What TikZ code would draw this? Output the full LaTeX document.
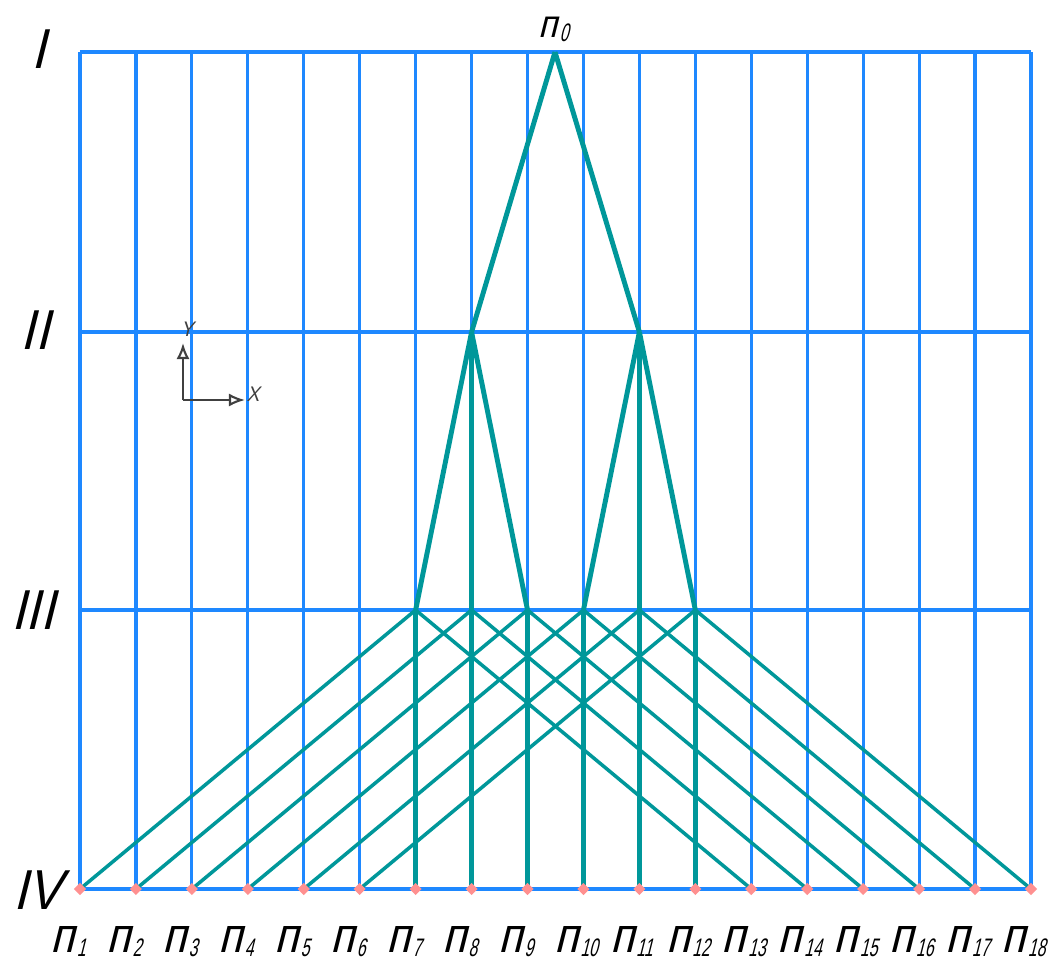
\documentclass[tikz,border=0pt]{standalone}
\usepackage{fontspec}
\usepackage{tikz}
\usetikzlibrary{arrows.meta,calc,shapes.geometric}
\newfontfamily\gost[FakeSlant=0.25,FakeStretch=0.9]{Liberation Sans}
\newfontfamily\gostnum[FakeSlant=0.25,FakeStretch=0.62]{Liberation Sans}
\definecolor{gblue}{HTML}{1E88FF}
\definecolor{gteal}{HTML}{00979A}
\definecolor{gpink}{HTML}{FF9090}
\definecolor{gaxis}{HTML}{404040}
\newcommand{\pnum}[1]{п\kern0.6pt\raisebox{-1.4pt}{\gostnum\fontsize{7.2}{7.2}\selectfont #1}}
\tikzset{
  gridline/.style={draw=gblue, line width=0.9pt},
  link/.style    ={draw=gteal, line width=1pt},
  trunk/.style   ={link, line width=1.4pt},
  pt/.style      ={diamond, fill=gpink, inner sep=0pt, minimum size=3.6pt},
  lvl/.style     ={font=\gost\fontsize{16}{16}\selectfont, inner sep=0pt},
  lab/.style     ={font=\gost\fontsize{14}{14}\selectfont, inner sep=0pt, anchor=base west},
  axis/.style    ={draw=gaxis, line width=0.6pt, -{Latex[open,length=1.6mm,width=1.3mm]}},
  axlab/.style   ={font=\gost\fontsize{6}{6}\selectfont, text=gaxis, inner sep=0pt},
}

\begin{document}
\begin{tikzpicture}[x=0.01cm, y=-0.01cm]
  \useasboundingbox (0,0) rectangle (1053,963);

  % grid
  \foreach \y in {52,332,610,889}
    \draw[gridline] (80,\y) -- (1031,\y);
  \foreach \i in {0,...,17}
    \draw[gridline] ({80+55.94*\i},52) -- ({80+55.94*\i},889);

  % levels
  \coordinate (p0) at (555,52);
  \coordinate (a1) at ({80+55.94*7},332);
  \coordinate (a2) at ({80+55.94*10},332);
  \foreach \i in {7,...,12}
    \coordinate (b\i) at ({80+55.94*(\i-1)},610);

  % links
  \draw[trunk] (p0) -- (a1);
  \draw[trunk] (p0) -- (a2);
  \foreach \i in {7,8,9}
    \draw[trunk] (a1) -- (b\i);
  \foreach \i in {10,11,12}
    \draw[trunk] (a2) -- (b\i);
  \foreach \i in {1,...,18}
    \coordinate (c\i) at ({80+55.94*(\i-1)},889);
  \foreach \i in {7,...,12} {
    \pgfmathtruncatemacro\l{\i-6}
    \pgfmathtruncatemacro\r{\i+6}
    \draw[link]  (b\i) -- (c\l);
    \draw[trunk] (b\i) -- (c\i);
    \draw[link]  (b\i) -- (c\r);
  }
  \foreach \i in {1,...,18}
    \node[pt] (n\i) at (c\i) {};

  % labels
  \node[lab, font=\gost\fontsize{11}{11}\selectfont] (l0) at ([shift={(-17,-15)}]p0) {\pnum{0}};
  \foreach \i in {1,...,18}
    \node[lab] (l\i) at ([shift={(-30,63)}]n\i.center) {\pnum{\i}};
  \node[lvl] (r1) at (39,49)  {I};
  \node[lvl] (r2) at (35,330) {II};
  \node[lvl] (r3) at (33,610) {III};
  \node[lvl] (r4) at (37,890) {IV};

  % axes
  \coordinate (o)  at (183,400);
  \coordinate (ye) at (183,343);
  \coordinate (xe) at (245,400);
  \draw[axis] (o) -- (ye);
  \draw[axis] (o) -- (xe);
  \node[axlab] (ay) at (187,329) {Y};
  \node[axlab] (ax) at (253,394) {X};
\end{tikzpicture}
\end{document}
